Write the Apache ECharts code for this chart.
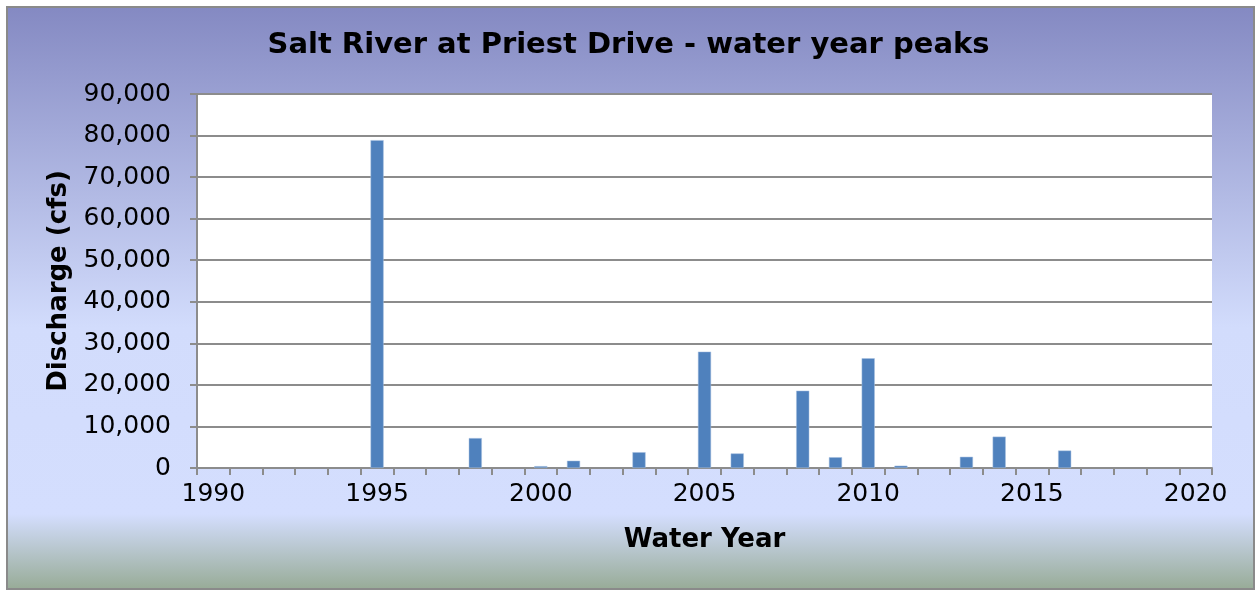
<!DOCTYPE html>
<html>
<head>
<meta charset="utf-8">
<script src="https://cdn.jsdelivr.net/npm/echarts@6/dist/echarts.min.js"></script>
<style>
  html, body { margin: 0; padding: 0; background: #fff; }
  #main { width: 1257px; height: 592px; }
</style>
</head>
<body>
<div id="main"></div>
<script>
// water years 1990..2020 (category axis, ticks between years)
var years = [];
for (var y = 1990; y <= 2020; y++) years.push(String(y));

// peak discharge (cfs); null = no bar
var peaks = [
  null, null, null, null, null,   // 1990-1994
  78900, null, null, 7200, null,  // 1995-1999
  450, 1750, null, 3800, null,    // 2000-2004
  28000, 3500, null, 18600, 2600, // 2005-2009
  26400, 550, null, 2700, 7550,   // 2010-2014
  null, 4200, null, null, null,   // 2015-2019
  null                            // 2020
];

var yTicks = { min: 0, max: 90000, step: 10000 };

var font = "DejaVu Sans";
var chart = echarts.init(document.getElementById("main"));

var option = {
  animation: false,
  textStyle: { fontFamily: font },
  graphic: [{
    type: "rect",
    z: -10,
    silent: true,
    shape: { x: 7, y: 7, width: 1247, height: 582 },
    style: {
      fill: new echarts.graphic.LinearGradient(0, 0, 0, 1, [
        { offset: 0, color: "#8489c2" },
        { offset: 0.55, color: "#d2dcfc" },
        { offset: 0.87, color: "#d4defe" },
        { offset: 1, color: "#97ab96" }
      ]),
      stroke: "#8a8a8a",
      lineWidth: 2
    }
  }],
  title: {
    text: "Salt River at Priest Drive - water year peaks",
    left: "center",
    top: 26,
    textStyle: { fontFamily: font, fontSize: 29, fontWeight: "bold", color: "#000" }
  },
  grid: {
    left: 197, right: 45, top: 94, bottom: 124,
    show: true, backgroundColor: "#fff", borderWidth: 0
  },
  xAxis: {
    type: "category",
    data: years,
    boundaryGap: true,
    name: "Water Year",
    nameLocation: "middle",
    nameGap: 59,
    nameTextStyle: { fontFamily: font, fontSize: 26, fontWeight: "bold", color: "#000" },
    axisLine: { lineStyle: { color: "#8c8c8c", width: 2 } },
    axisTick: { show: true, interval: 0, length: 7, lineStyle: { color: "#8c8c8c", width: 2 } },
    axisLabel: { interval: 4, margin: 14, fontSize: 25, color: "#000", fontFamily: font },
    splitLine: { show: false }
  },
  yAxis: {
    type: "value",
    min: yTicks.min,
    max: yTicks.max,
    interval: yTicks.step,
    name: "Discharge (cfs)",
    nameLocation: "middle",
    nameGap: 124,
    nameTextStyle: { fontFamily: font, fontSize: 26, fontWeight: "bold", color: "#000" },
    axisLine: { show: true, lineStyle: { color: "#8c8c8c", width: 2 } },
    axisTick: { show: true, length: 7, lineStyle: { color: "#8c8c8c", width: 2 } },
    axisLabel: {
      margin: 26, fontSize: 25, color: "#000", fontFamily: font,
      formatter: function (v) { return v.toLocaleString("en-US"); }
    },
    splitLine: { lineStyle: { color: "#8c8c8c", width: 2 } }
  },
  series: [{
    name: "Peak",
    type: "bar",
    data: peaks,
    barWidth: "40%",
    itemStyle: { color: "#4f81bd", borderColor: "#a9c0e0", borderWidth: 0.5 }
  }]
};

chart.setOption(option);
</script>
</body>
</html>
